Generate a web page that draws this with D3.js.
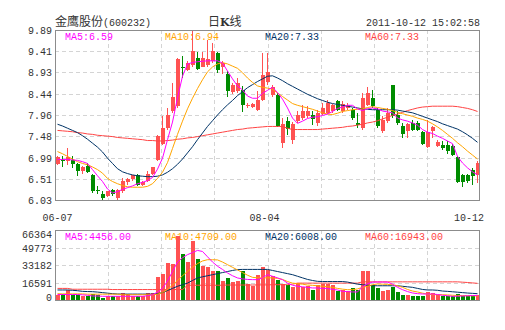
<!DOCTYPE html>
<html><head><meta charset="utf-8">
<script src="https://cdn.jsdelivr.net/npm/d3@7"></script>
<style>html,body{margin:0;padding:0;background:#fff;}svg{display:block;}</style>
</head><body>
<svg id="c" width="505" height="330"></svg>
<script>
// ---- data ----
const openP  = [6.85,6.94,6.91,6.94,6.85,6.68,6.81,6.60,6.25,6.17,6.11,6.26,6.07,6.23,6.44,6.51,6.60,6.36,6.47,6.62,
  6.94,7.30,7.66,8.04,8.16,9.06,8.99,9.09,9.25,9.04,9.09,9.18,9.37,9.06,8.89,8.48,8.51,8.53,8.16,8.15,
  8.08,8.30,8.72,8.41,8.42,7.32,7.82,7.40,7.82,7.90,7.93,7.97,7.78,7.98,8.00,8.04,8.28,8.06,8.12,8.08,
  7.78,7.66,8.19,8.35,8.08,7.60,7.82,8.63,7.95,7.70,7.60,7.78,7.78,7.57,7.23,7.59,7.25,7.29,7.29,7.25,
  7.01,6.59,6.60,6.72,6.60];
const closeP = [7.00,6.93,7.00,6.85,6.68,6.79,6.66,6.23,6.24,6.07,6.23,6.17,6.26,6.47,6.51,6.59,6.36,6.45,6.62,6.77,
  7.48,7.66,7.95,8.38,9.24,9.03,9.14,9.42,9.01,9.25,9.24,9.41,8.99,9.14,8.51,8.63,8.69,8.18,8.19,8.21,
  8.31,8.87,8.94,8.60,7.70,7.75,7.64,7.76,7.97,8.04,8.06,7.86,8.01,8.13,8.23,8.18,8.08,8.21,8.18,7.89,
  7.73,8.35,8.46,8.16,7.70,7.85,8.01,7.93,7.78,7.53,7.75,7.63,7.63,7.30,7.57,7.68,7.35,7.20,7.14,7.06,
  6.45,6.45,6.47,6.57,6.87];
const highP  = [7.02,7.04,7.22,7.03,6.86,6.81,6.87,6.62,6.34,6.23,6.24,6.28,6.28,6.53,6.54,6.60,6.62,6.47,6.68,6.79,
  7.50,7.93,8.12,8.69,9.25,9.29,9.18,9.86,9.40,9.40,9.67,9.59,9.39,9.18,8.95,8.69,8.80,8.61,8.23,8.23,
  8.50,9.36,9.36,8.65,8.45,7.90,7.91,7.80,8.05,8.19,8.16,8.04,8.08,8.23,8.31,8.21,8.31,8.27,8.23,8.12,
  8.00,8.46,8.59,8.53,8.12,7.93,8.12,8.65,8.06,7.78,7.78,7.85,7.83,7.59,7.85,7.70,7.40,7.36,7.36,7.30,
  7.02,6.61,6.62,6.76,6.91];
const lowP   = [6.83,6.77,6.82,6.76,6.57,6.62,6.64,6.19,6.17,6.04,6.09,6.11,6.04,6.19,6.38,6.47,6.34,6.34,6.45,6.59,
  6.92,7.28,7.63,8.00,8.12,8.80,8.95,9.06,8.99,9.04,9.06,9.14,8.91,8.89,8.38,8.44,8.46,8.03,8.12,8.12,
  8.04,8.27,8.64,8.38,7.68,7.20,7.50,7.31,7.78,7.85,7.89,7.74,7.70,7.95,7.98,8.00,8.04,8.00,8.08,7.85,
  7.67,7.63,8.16,8.12,7.67,7.55,7.78,7.89,7.74,7.44,7.44,7.59,7.59,7.29,7.21,7.44,7.23,7.17,7.07,7.02,
  6.42,6.32,6.42,6.38,6.42];
const ma5  = [6.95,6.95,6.95,6.94,6.93,6.90,6.86,6.72,6.58,6.45,6.28,6.19,6.22,6.27,6.31,6.35,6.40,6.43,6.47,6.54,
  6.73,6.98,7.40,7.80,8.35,8.84,9.12,9.15,9.17,9.18,9.19,9.19,9.19,9.14,8.96,8.78,8.62,8.53,8.39,8.34,
  8.34,8.45,8.52,8.59,8.47,8.32,8.12,7.89,7.77,7.82,7.88,7.91,7.92,7.95,7.98,8.04,8.11,8.14,8.18,8.18,
  8.10,8.06,8.10,8.12,8.10,8.05,8.03,8.01,7.89,7.85,7.82,7.78,7.73,7.63,7.57,7.54,7.48,7.43,7.37,7.31,
  7.02,6.87,6.76,6.67,6.60];
const ma10 = [7.13,7.08,7.02,6.96,6.90,6.86,6.83,6.78,6.72,6.64,6.52,6.45,6.40,6.36,6.33,6.32,6.32,6.32,6.34,6.40,
  6.52,6.66,6.88,7.20,7.52,7.82,8.10,8.34,8.56,8.76,8.94,9.05,9.12,9.15,9.12,9.07,9.02,8.92,8.80,8.70,
  8.62,8.59,8.57,8.55,8.46,8.38,8.30,8.22,8.18,8.15,8.12,8.09,8.05,8.01,7.98,7.97,8.00,8.04,8.06,8.08,
  8.09,8.10,8.13,8.15,8.13,8.11,8.09,8.06,8.02,7.99,7.96,7.93,7.89,7.86,7.82,7.76,7.69,7.61,7.52,7.43,
  7.33,7.24,7.14,7.05,6.96];
const ma20 = [7.75,7.71,7.66,7.61,7.56,7.49,7.41,7.32,7.23,7.12,6.98,6.86,6.74,6.67,6.63,6.60,6.58,6.57,6.56,6.56,
  6.57,6.60,6.66,6.74,6.84,6.96,7.10,7.24,7.40,7.55,7.70,7.83,7.96,8.08,8.19,8.29,8.40,8.49,8.58,8.65,
  8.72,8.78,8.84,8.85,8.80,8.74,8.67,8.61,8.55,8.49,8.43,8.38,8.33,8.29,8.25,8.22,8.20,8.18,8.16,8.14,
  8.12,8.10,8.09,8.08,8.08,8.08,8.08,8.08,8.07,8.05,8.03,8.01,7.97,7.93,7.89,7.85,7.81,7.76,7.72,7.68,
  7.64,7.58,7.51,7.43,7.34];
const ma60 = [7.61,7.60,7.59,7.58,7.56,7.55,7.53,7.52,7.50,7.49,7.48,7.47,7.45,7.44,7.43,7.42,7.41,7.40,7.38,7.38,
  7.37,7.37,7.38,7.39,7.41,7.42,7.44,7.45,7.47,7.49,7.51,7.53,7.55,7.57,7.59,7.61,7.63,7.64,7.66,7.67,
  7.68,7.69,7.70,7.70,7.70,7.70,7.66,7.63,7.63,7.63,7.63,7.63,7.63,7.64,7.65,7.66,7.67,7.68,7.70,7.71,
  7.73,7.75,7.78,7.80,7.83,7.87,7.91,7.95,7.98,8.02,8.06,8.09,8.12,8.14,8.15,8.16,8.16,8.16,8.16,8.16,
  8.15,8.13,8.11,8.08,8.04];
const volume = [5060,5690,9800,5060,5060,3480,3480,5690,4420,1900,3480,3480,3480,6640,5690,3480,3480,3480,6640,6640,
  21500,24650,35100,34100,60400,43600,36000,56250,39200,31900,31000,27800,27800,17700,20900,17060,17700,27200,15170,12960,
  24000,31000,28000,23000,19000,15000,14200,12600,16500,12600,13300,9500,14200,15500,15500,14000,9000,9800,9000,11000,
  9800,27800,27800,14200,11000,8850,9800,12600,7900,4740,4740,4000,4000,4000,7900,7000,4740,3500,3500,3500,
  5500,3500,3500,4000,4500];
const vma5  = [5200,5200,5200,5200,5200,4900,4500,3800,3800,3500,3500,3500,3500,3500,3500,3500,3500,3500,4000,5000,
  7500,11000,18000,27000,36000,40000,43000,45000,47000,46000,41000,36000,32000,29000,25600,23000,20900,20000,19500,19300,
  19300,21000,24000,22500,21000,19300,16000,14000,13000,12500,12000,11400,11400,11000,11000,10000,9500,8200,8000,7600,
  7600,12500,15500,17000,17000,17000,17000,15000,12000,9800,8000,6640,6000,5690,5690,5690,5200,4500,4000,3480,
  3600,3800,4000,4200,4400];
const vma10 = [6000,5800,5800,5800,5800,5800,5500,5500,5500,5500,5500,5500,5500,5000,5000,5000,5000,5000,5000,5000,
  5500,7000,10000,14000,18500,23000,27000,31000,34500,37000,38200,38200,38000,36000,33500,31000,28500,26000,23500,21500,
  21000,21000,21000,21000,20500,19500,17500,16000,15500,15000,14200,13900,13500,13000,12500,12000,11000,10300,9800,9800,
  10500,12000,13000,14500,15200,15000,14800,14500,13500,12000,10000,8500,7600,6500,5500,5060,5060,5000,4800,4500,
  4300,4200,4100,4000,3800];
const vma20 = [9500,9500,9500,9200,8800,8200,8000,7900,7500,7000,6500,6000,5700,5600,5600,5600,5600,5600,5600,5600,
  6000,7000,9000,11000,13000,14500,16000,18500,20900,22000,23000,24000,25000,26000,27000,28000,28800,29000,29000,29000,
  29000,29000,29000,28000,27000,26000,25000,24000,22500,21000,19500,18500,17700,17500,17500,17500,17500,17500,17000,16000,
  15000,14500,14000,13500,13500,13500,13500,13500,13500,13000,12500,12000,11000,10000,9500,9500,9200,8500,8200,7800,
  7400,7000,6600,6300,6000];
const vma60 = [11000,11000,11000,10200,10200,10200,10200,10200,10200,10200,10200,9900,9900,9900,9900,9900,9900,9900,9900,9900,
  9900,9900,9900,9900,9900,9900,14000,14000,14000,14000,14000,14000,14000,14000,14200,14200,14200,14200,14200,14200,
  14300,14300,14300,14500,14500,14500,14500,15000,16000,16000,16000,16000,16000,16000,16000,16000,16000,16000,16000,16000,
  16000,17200,17200,17200,17200,17200,17200,17200,17200,17200,17200,17200,17200,17200,17200,17200,17200,17200,17200,17200,
  17200,16900,16600,16200,15800];
const priceTicks = [9.89,9.41,8.93,8.44,7.96,7.48,6.99,6.51,6.03];
const volTicks = [66364,49773,33182,16591,0];
const xLabelIdx = [0,42,84];
const xLabels = ["06-07","08-04","10-12"];
const maNames = ["MA5","MA10","MA20","MA60"];
const priceLegend = ["6.59","6.94","7.33","7.33"];
const volLegend = ["4456.00","4709.00","6008.00","16943.00"];
const titleName = "金鹰股份";
const titleCode = "(600232)";
const titleMid = ["日","K","线"];
const timeStamp = "2011-10-12 15:02:58";

// ---- layout ----
const L = 55, R = 480, pTop = 30, pBot = 200, vTop = 230, vBot = 300;
const UP = "#ff5252", DOWN = "#008c00";
const maColors = ["#ff00ff","#ffa500","#003366","#ff4444"];
const mono = "'Liberation Mono','DejaVu Sans Mono',monospace";
const cjk = "'Noto Sans CJK SC','Noto Sans',sans-serif";

const svg = d3.select("#c");
const n = closeP.length;
const x = d3.scaleBand().domain(d3.range(n)).range([L, R]).padding(0);
const cx = i => x(i) + x.bandwidth() / 2;
const y = d3.scaleLinear().domain([6.03, 9.89]).range([pBot, pTop]);
const yv = d3.scaleLinear().domain([0, 66364]).range([vBot, vTop]);

// grids
function grid(top, bot, scale, ticks) {
  const g = svg.append("g").attr("stroke", "#d4d4d4").attr("stroke-dasharray", "4,3").attr("shape-rendering", "crispEdges");
  ticks.forEach(t => {
    const yy = Math.round(scale(t)) + 0.5;
    if (yy > top + 1 && yy < bot - 1)
      g.append("line").attr("x1", L).attr("x2", R).attr("y1", yy).attr("y2", yy);
  });
  d3.range(1, 8).forEach(k => {
    const xx = Math.round(L + k * (R - L) / 8) + 0.5;
    g.append("line").attr("x1", xx).attr("x2", xx).attr("y1", top).attr("y2", bot);
  });
}
grid(pTop, pBot, y, priceTicks);
grid(vTop, vBot, yv, volTicks);

// axis labels
const txt = svg.append("g").attr("font-family", mono).attr("font-size", 10).attr("fill", "#333");
priceTicks.forEach(t => {
  txt.append("text").attr("x", 52).attr("y", y(t) + 4).attr("text-anchor", "end").text(t.toFixed(2));
});
volTicks.forEach((t, k) => {
  let yy = yv(t) + 4;
  if (k === 0) yy = yv(t) + 8;
  if (k === volTicks.length - 1) yy = yv(t) + 1;
  txt.append("text").attr("x", 52).attr("y", yy).attr("text-anchor", "end").text(String(t));
});
xLabelIdx.forEach((idx, k) => {
  const t = txt.append("text").attr("y", 221).text(xLabels[k]);
  if (k === xLabelIdx.length - 1) t.attr("x", R + 4).attr("text-anchor", "end");
  else if (k === 0) t.attr("x", cx(idx)).attr("text-anchor", "middle");
  else t.attr("x", cx(idx) - 3).attr("text-anchor", "middle");
});

// title
const tt = svg.append("text").attr("x", 55).attr("y", 26).attr("fill", "#333");
tt.append("tspan").attr("font-family", cjk).attr("font-size", 12).text(titleName);
tt.append("tspan").attr("font-family", mono).attr("font-size", 10).text(titleCode);
const tm = svg.append("text").attr("x", 208).attr("y", 26).attr("fill", "#333")
  .attr("font-family", cjk).attr("font-size", 12);
tm.append("tspan").text(titleMid[0]);
tm.append("tspan").attr("font-weight", "bold").attr("font-family", "'DejaVu Serif',serif").attr("font-size", 11).text(titleMid[1]);
tm.append("tspan").text(titleMid[2]);
svg.append("text").attr("x", R).attr("y", 26).attr("text-anchor", "end").attr("fill", "#333")
  .attr("font-family", mono).attr("font-size", 10).text(timeStamp);

// legends
maNames.forEach((nm, k) => {
  svg.append("text").attr("x", 65 + 100 * k).attr("y", 40).attr("fill", maColors[k])
    .attr("font-family", mono).attr("font-size", 10).text(nm + ":" + priceLegend[k]);
  svg.append("text").attr("x", 65 + 100 * k).attr("y", 240).attr("fill", maColors[k])
    .attr("font-family", mono).attr("font-size", 10).text(nm + ":" + volLegend[k]);
});

// candles
const cg = svg.append("g").attr("shape-rendering", "crispEdges");
d3.range(n).forEach(i => {
  const up = closeP[i] >= openP[i];
  const col = up ? UP : DOWN;
  const x0 = x(i);
  const yh = y(highP[i]), yl = y(lowP[i]);
  cg.append("rect").attr("x", x0 + 2).attr("width", 1).attr("y", yh).attr("height", Math.max(1, yl - yh)).attr("fill", col);
  const yt = y(Math.max(openP[i], closeP[i])), yb = y(Math.min(openP[i], closeP[i]));
  cg.append("rect").attr("x", x0 + 1).attr("width", 4).attr("y", yt).attr("height", Math.max(1, yb - yt)).attr("fill", col);
  // volume
  cg.append("rect").attr("x", x0 + 1).attr("width", 4).attr("y", yv(volume[i]))
    .attr("height", vBot - yv(volume[i])).attr("fill", col);
});

// MA lines
const mline = d3.line().x((d, i) => cx(i)).y(d => y(d));
[ma60, ma20, ma10, ma5].forEach((arr, k) => {
  svg.append("path").attr("d", mline(arr)).attr("fill", "none")
    .attr("stroke", maColors[3 - k]).attr("stroke-width", 1);
});
const vline = d3.line().x((d, i) => cx(i)).y(d => yv(d));
[vma60, vma20, vma10, vma5].forEach((arr, k) => {
  svg.append("path").attr("d", vline(arr)).attr("fill", "none")
    .attr("stroke", maColors[3 - k]).attr("stroke-width", 1);
});

// frames
[[pTop, pBot], [vTop, vBot]].forEach(([t, b]) => {
  svg.append("rect").attr("x", L + 0.5).attr("y", t + 0.5).attr("width", R - L - 1).attr("height", b - t)
    .attr("fill", "none").attr("stroke", "#8c8c8c").attr("stroke-width", 1);
});
</script>
</body></html>
